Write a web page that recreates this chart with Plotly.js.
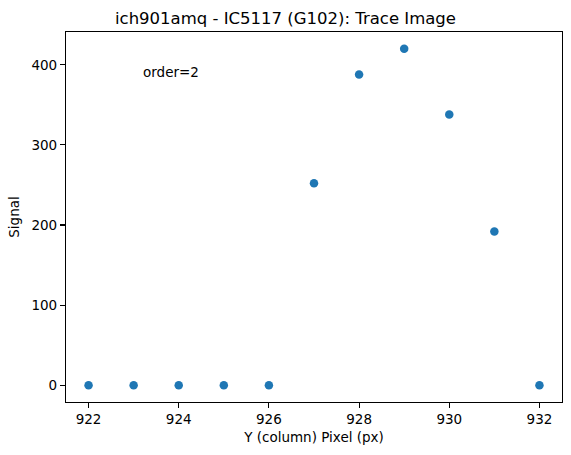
<!DOCTYPE html>
<html>
<head>
<meta charset="utf-8">
<script src="https://cdn.plot.ly/plotly-3.0.1.min.js"></script>
<style>
  html, body { margin: 0; padding: 0; background: #fff; }
  #chart { width: 571px; height: 455px; }
</style>
</head>
<body>
<div id="chart"></div>
<script>
// trace image cross-section, order=2
var pixels = [922, 923, 924, 925, 926, 927, 928, 929, 930, 931, 932];
var signal = [0, 0, 0, 0, 0, 252, 388, 420, 338, 192, 0];
var xTicks = [922, 924, 926, 928, 930, 932];
var yTicks = [0, 100, 200, 300, 400];

var FONT = 'DejaVu Sans, Liberation Sans, sans-serif';

var trace = {
  type: 'scatter',
  mode: 'markers',
  x: pixels,
  y: signal,
  marker: { color: '#1f77b4', size: 8.5 },
  hoverinfo: 'x+y'
};

var axisBase = {
  showgrid: false,
  zeroline: false,
  showline: true,
  linecolor: '#000',
  linewidth: 1.1,
  mirror: true,
  ticks: 'outside',
  ticklen: 5,
  tickwidth: 1.1,
  tickcolor: '#000',
  tickfont: { family: FONT, size: 13.5, color: '#000' }
};

var layout = {
  width: 571,
  height: 455,
  margin: { l: 66, r: 9, t: 32, b: 53 },
  paper_bgcolor: '#fff',
  plot_bgcolor: '#fff',
  showlegend: false,
  font: { family: FONT, color: '#000' },
  title: {
    text: 'ich901amq - IC5117 (G102): Trace Image',
    font: { family: FONT, size: 16.5, color: '#000' },
    x: 0.5, xanchor: 'center',
    y: 1 - 18 / 455, yanchor: 'middle'
  },
  xaxis: Object.assign({}, axisBase, {
    range: [921.5, 932.5],
    tickmode: 'array',
    tickvals: xTicks,
    ticktext: xTicks.map(String),
    title: { text: 'Y (column) Pixel (px)', font: { family: FONT, size: 13.5, color: '#000' }, standoff: 6 }
  }),
  yaxis: Object.assign({}, axisBase, {
    range: [-21, 441],
    tickmode: 'array',
    tickvals: yTicks,
    ticktext: yTicks.map(String),
    title: { text: 'Signal', font: { family: FONT, size: 13.5, color: '#000' }, standoff: 8 }
  }),
  annotations: [{
    xref: 'paper', yref: 'paper',
    x: 0.152, y: 0.893,
    xanchor: 'left', yanchor: 'middle',
    text: 'order=2',
    showarrow: false,
    font: { family: FONT, size: 13.5, color: '#000' }
  }]
};

Plotly.newPlot('chart', [trace], layout, { displayModeBar: false, staticPlot: true });
</script>
</body>
</html>
